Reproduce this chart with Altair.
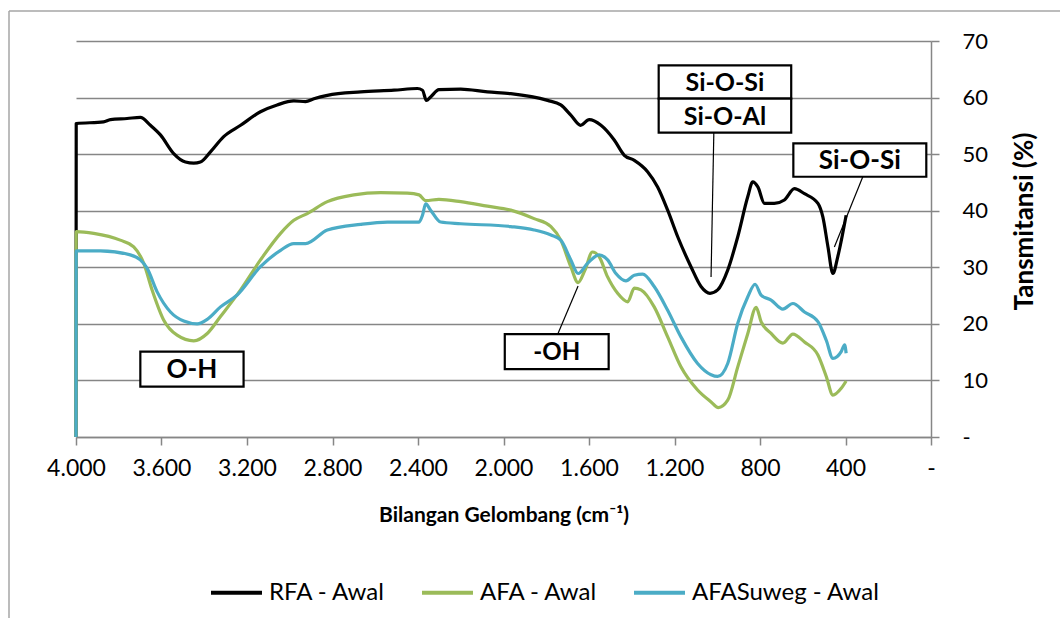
import altair as alt
import pandas as pd

# FTIR spectra: wavenumber (cm-1) and transmittance (%)
series_names = ["RFA - Awal", "AFA - Awal", "AFASuweg - Awal"]
series_colors = ["#000000", "#9BBB59", "#4BACC6"]

rfa_wn = [4000, 3999, 3871, 3839, 3761, 3699, 3652, 3605, 3543, 3488,
          3449, 3418, 3371, 3309, 3230, 3137, 3059, 2981, 2926, 2887,
          2824, 2668, 2512, 2403, 2379, 2361, 2341, 2302, 2200, 2075,
          1966, 1794, 1732, 1685, 1639, 1599, 1544, 1482, 1435, 1388,
          1326, 1279, 1232, 1185, 1123, 1076, 1034, 998, 951, 904,
          857, 834, 810, 779, 733, 686, 639, 592, 529, 506,
          482, 459, 436, 397]
rfa_t = [0, 55.4, 55.7, 56.1, 56.3, 56.5, 55.1, 53.4, 50.1, 48.6,
         48.4, 48.6, 50.4, 53.1, 55.1, 57.5, 58.7, 59.4, 59.3, 59.8,
         60.4, 61.0, 61.3, 61.6, 61.3, 59.5, 60.1, 61.4, 61.5, 61.0,
         60.7, 59.5, 58.7, 56.9, 55.1, 56.1, 55.1, 52.5, 49.8, 48.9,
         46.9, 44.2, 40.1, 35.4, 30.1, 26.6, 25.4, 26.0, 29.5, 35.4,
         42.5, 45.1, 44.2, 41.3, 41.3, 41.9, 43.9, 43.0, 41.3, 38.9,
         33.6, 28.9, 31.9, 39.2]

afa_wn = [4000, 3999, 3917, 3793, 3730, 3683, 3644, 3590, 3527, 3449,
          3386, 3324, 3230, 3137, 3043, 2981, 2918, 2824, 2700, 2575,
          2450, 2395, 2364, 2302, 2200, 2075, 1966, 1857, 1778, 1732,
          1685, 1651, 1619, 1584, 1553, 1513, 1466, 1419, 1388, 1357,
          1295, 1232, 1170, 1092, 1029, 995, 951, 904, 857, 818,
          795, 748, 693, 646, 592, 529, 490, 459, 420, 397]
afa_t = [0, 36.3, 36.0, 34.8, 33.6, 30.7, 26.0, 20.7, 18.0, 17.0,
         18.3, 21.3, 26.0, 31.3, 36.0, 38.3, 39.5, 41.6, 42.8, 43.2,
         43.1, 42.8, 41.8, 42.0, 41.6, 40.8, 40.1, 38.6, 37.2, 34.8,
         30.1, 27.3, 29.5, 32.7, 31.9, 28.3, 25.4, 23.9, 26.3, 26.0,
         23.0, 17.7, 12.4, 8.3, 6.2, 5.2, 6.5, 12.4, 18.3, 22.9,
         20.4, 18.3, 16.6, 18.2, 16.8, 14.5, 10.7, 7.4, 8.6, 9.9]

suweg_wn = [4000, 3999, 3886, 3746, 3699, 3667, 3621, 3558, 3496, 3433,
            3386, 3324, 3246, 3137, 3043, 2981, 2926, 2824, 2668, 2543,
            2395, 2379, 2364, 2341, 2294, 2200, 1966, 1857, 1778, 1732,
            1685, 1651, 1607, 1553, 1513, 1474, 1427, 1388, 1349, 1295,
            1232, 1170, 1092, 1029, 998, 951, 904, 857, 823, 795,
            748, 693, 646, 592, 529, 490, 459, 420, 404, 397]
suweg_t = [0, 32.9, 32.9, 32.2, 31.3, 29.8, 25.7, 22.1, 20.5, 20.0,
           20.8, 23.0, 25.1, 30.1, 33.0, 34.2, 34.2, 36.6, 37.6, 38.0,
           38.0, 39.2, 41.2, 40.1, 38.0, 37.7, 37.2, 36.6, 35.7, 34.8,
           31.3, 28.9, 30.7, 32.2, 31.3, 28.9, 27.6, 28.6, 28.8, 26.6,
           22.4, 17.7, 13.0, 11.0, 10.7, 13.0, 20.1, 24.8, 27.0, 25.1,
           24.2, 22.6, 23.6, 22.1, 20.4, 17.1, 13.9, 15.1, 16.3, 14.8]

x_ticks = [4000, 3600, 3200, 2800, 2400, 2000, 1600, 1200, 800, 400, 0]
y_ticks = [0, 10, 20, 30, 40, 50, 60, 70]

# band labels
band_labels = ["O-H", "-OH", "Si-O-Si", "Si-O-Al", "Si-O-Si"]

# label boxes (wavenumber span, transmittance span) and font sizes
box_x1 = [3699, 1994, 1274, 1274, 644]
box_x2 = [3216, 1508, 654, 654, 22]
box_y1 = [8.9, 12.0, 59.8, 53.8, 46.0]
box_y2 = [15.1, 18.2, 65.7, 59.8, 51.9]
box_font = [26, 24, 25, 25, 26]

# leader lines from the boxes to the bands
lead_x1 = [1746, 1016, 319]
lead_y1 = [18.2, 53.8, 46.0]
lead_x2 = [1651, 1029, 452]
lead_y2 = [26.7, 28.3, 33.6]

FONT = "Lato"
GRID = "#868686"

rows = []
for name, wn, t in zip(series_names, [rfa_wn, afa_wn, suweg_wn], [rfa_t, afa_t, suweg_t]):
    for i, (w, v) in enumerate(zip(wn, t)):
        rows.append({"series": name, "wn": w, "t": v, "idx": i})
df = pd.DataFrame(rows)

boxes = pd.DataFrame({
    "label": band_labels, "x1": box_x1, "x2": box_x2,
    "y1": box_y1, "y2": box_y2, "fs": box_font,
})
boxes["xm"] = (boxes["x1"] + boxes["x2"]) / 2
boxes["ym"] = (boxes["y1"] + boxes["y2"]) / 2

leaders = pd.DataFrame({"x1": lead_x1, "y1": lead_y1, "x2": lead_x2, "y2": lead_y2})

x_scale = alt.Scale(domain=[0, 4000], reverse=True, nice=False, zero=False)
y_scale = alt.Scale(domain=[0, 70], nice=False, zero=False)

X_TITLE = "Bilangan Gelombang (cm\u207b\u00b9)"
Y_TITLE = "Tansmitansi (%)"

x_axis = alt.Axis(
    values=x_ticks, grid=False, tickSize=8, tickColor=GRID, tickWidth=1.5,
    domainColor=GRID, domainWidth=1.5,
    labelExpr="datum.value == 0 ? '-' : replace(format(datum.value, ','), ',', '.')",
    labelFont=FONT, labelFontSize=23, labelColor="#000", labelPadding=12,
    labelBaseline="top", labelFlush=False, labelOverlap=False,
    title=X_TITLE, titleFont=FONT, titleFontSize=21,
    titleFontWeight="bold", titleColor="#000", titleBaseline="alphabetic",
    titleY=84,
)
y_axis = alt.Axis(
    orient="right", values=y_ticks, grid=True, gridColor=GRID, gridWidth=1.4,
    tickSize=8, tickColor=GRID, tickWidth=1.5, domainColor=GRID, domainWidth=1.5,
    labelExpr="datum.value == 0 ? '-' : datum.label",
    labelFont=FONT, labelFontSize=22, labelColor="#000", labelPadding=23,
    labelAlign="left", labelFlush=False,
    title=Y_TITLE, titleFont=FONT, titleFontSize=26, titleFontWeight="bold",
    titleColor="#000", titleAngle=270, titleBaseline="alphabetic",
    titleX=101, titleY=180, titleAlign="center",
)


def xenc(field):
    return alt.X(field, scale=x_scale, axis=x_axis, title=X_TITLE)


def yenc(field):
    return alt.Y(field, scale=y_scale, axis=y_axis, title=Y_TITLE)


frame_src = pd.DataFrame({"k": [0]})
frame_left = alt.Chart(frame_src).mark_rule(color="#a6a6a6", strokeWidth=1.5).encode(
    x=alt.value(-67), y=alt.value(-30), y2=alt.value(577)
)
frame_top = alt.Chart(frame_src).mark_rule(color="#a6a6a6", strokeWidth=1.5).encode(
    x=alt.value(-67), x2=alt.value(984), y=alt.value(-30)
)

lines = alt.Chart(df).mark_line(
    strokeWidth=3.2, strokeJoin="round", interpolate="monotone"
).encode(
    x=xenc("wn:Q"),
    y=yenc("t:Q"),
    color=alt.Color(
        "series:N",
        scale=alt.Scale(domain=series_names, range=series_colors),
        sort=series_names,
        legend=alt.Legend(
            orient="none", legendX=133, legendY=524, direction="horizontal",
            title=None, symbolType="stroke", symbolSize=2600, symbolStrokeWidth=4,
            labelFont=FONT, labelFontSize=24, labelColor="#000", labelOffset=5,
            labelLimit=400, columnPadding=28,
        ),
    ),
    order=alt.Order("idx:Q"),
)

lead_lines = alt.Chart(leaders).mark_rule(color="#000", strokeWidth=1.2).encode(
    x=xenc("x1:Q"), y=yenc("y1:Q"), x2="x2:Q", y2="y2:Q",
)

box_rects = alt.Chart(boxes).mark_rect(fill="white", stroke="#000", strokeWidth=2.2).encode(
    x=xenc("x1:Q"), y=yenc("y1:Q"), x2="x2:Q", y2="y2:Q",
)

box_text = alt.Chart(boxes).mark_text(
    font=FONT, fontWeight="bold", color="#000", baseline="middle", align="center", dy=1
).encode(
    x=xenc("xm:Q"),
    y=yenc("ym:Q"),
    text="label:N",
    size=alt.Size("fs:Q", scale=None, legend=None),
)

chart = alt.layer(
    frame_left, frame_top, lines, lead_lines, box_rects, box_text
).properties(
    width=855, height=396,
    autosize=alt.AutoSizeParams(type="none"),
    padding={"left": 76, "top": 41, "right": 129, "bottom": 181},
).configure_view(strokeWidth=0)

chart.save("out.html", embed_options={"renderer": "svg", "actions": False})
